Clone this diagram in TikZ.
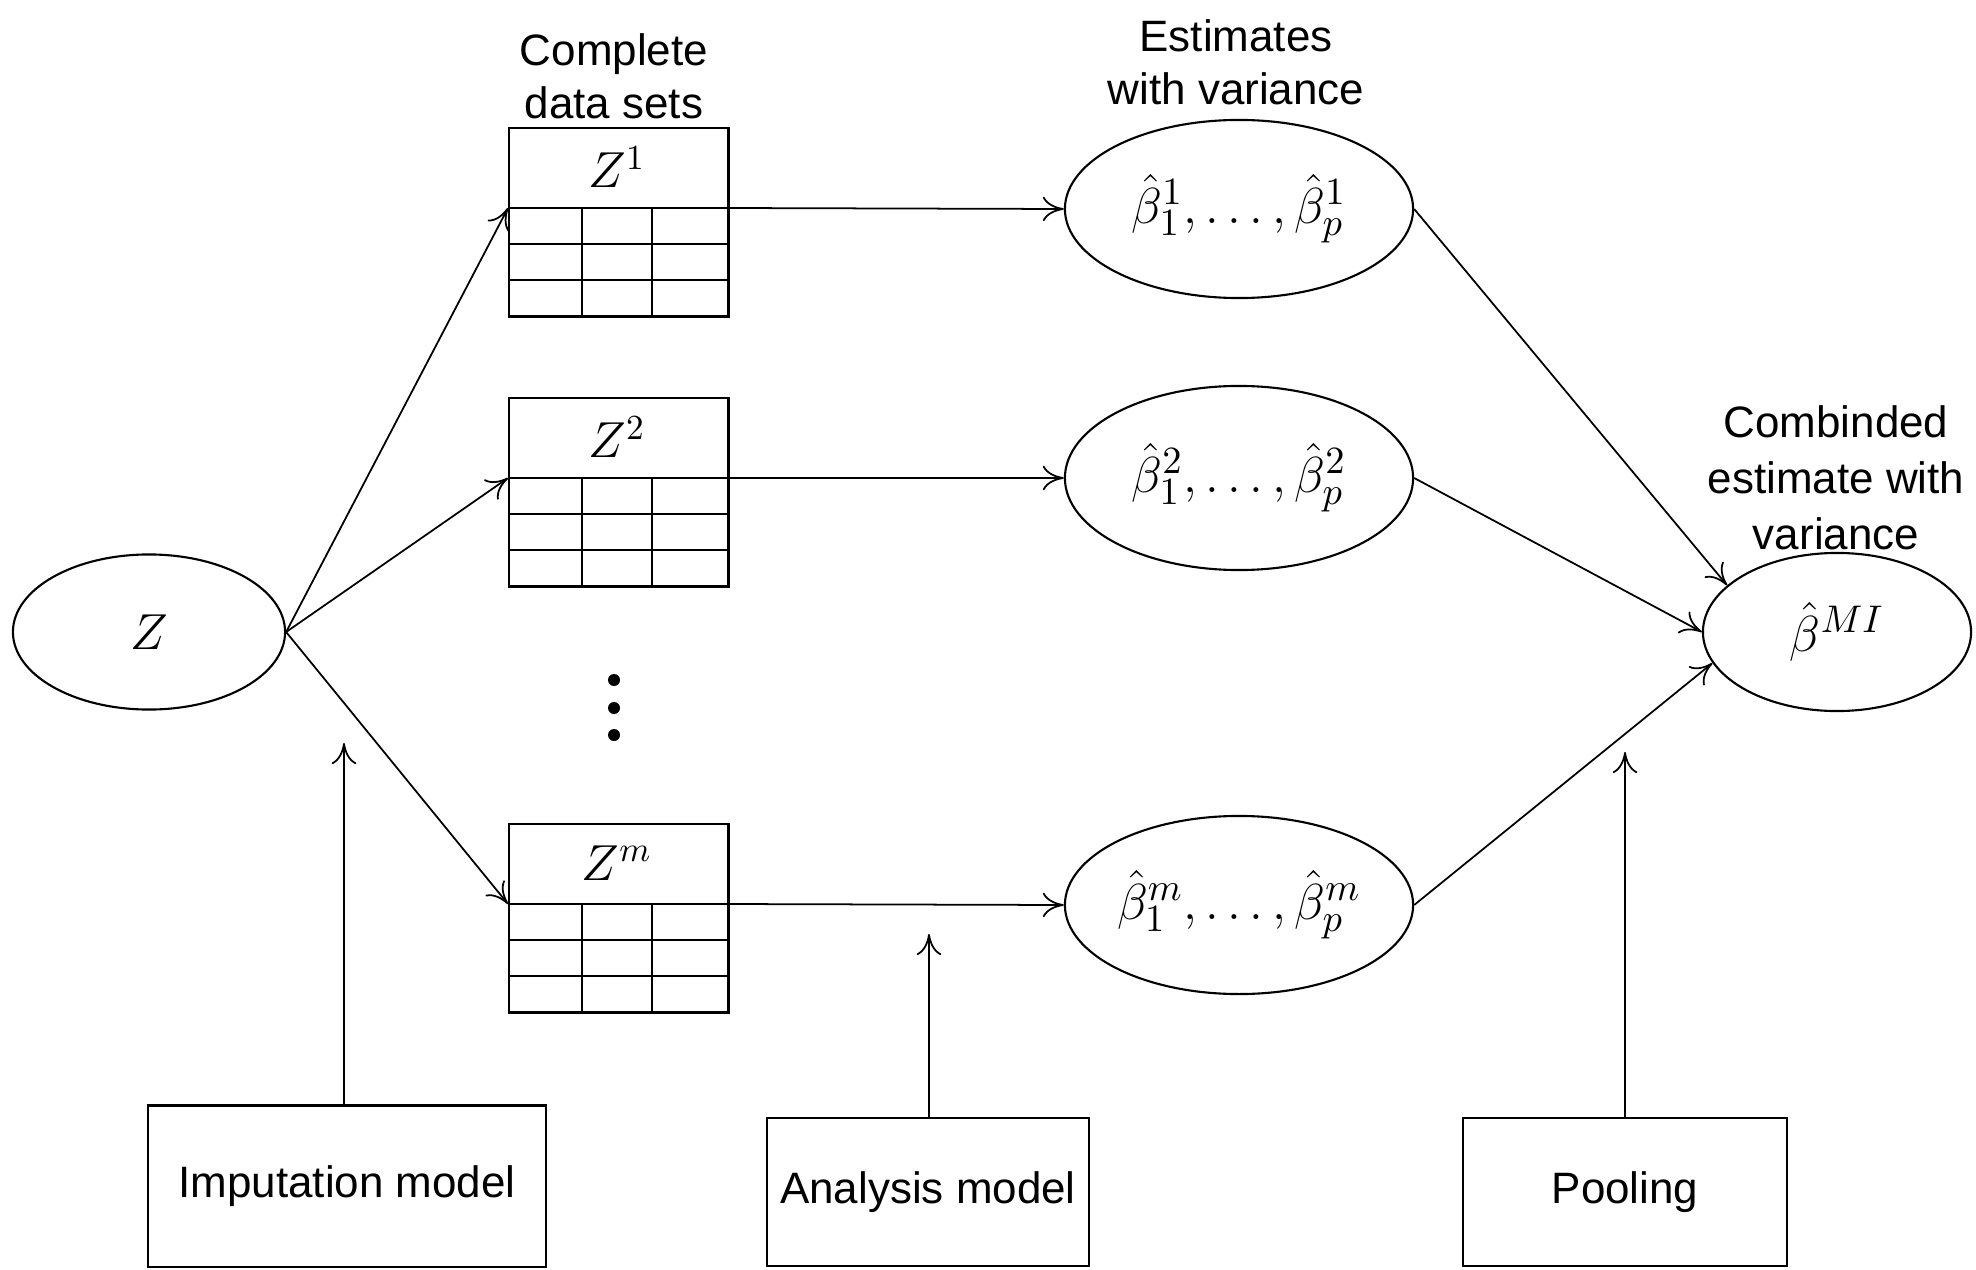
\documentclass[tikz,border=0pt]{standalone}
\usepackage{fontspec}
\newfontfamily\lsans{Liberation Sans}
\usetikzlibrary{shapes.geometric,arrows.meta}
\begin{document}
\begin{tikzpicture}[x=0.01cm,y=-0.01cm,
  every path/.style={line width=0.5pt},
  arr/.style={-{To[length=6pt,width=7pt]}, line width=0.5pt},
  oval/.style={draw, ellipse, inner sep=0pt, line width=0.6pt},
  modelbox/.style={draw, rectangle, line width=0.6pt, inner sep=0pt, font=\lsans\fontsize{12.5}{15}\selectfont},
  caption/.style={align=center, inner sep=0pt, font=\lsans\fontsize{12.5}{15}\selectfont},
  mathtxt/.style={font=\fontsize{14}{17}\selectfont},
  betatxt/.style={font=\fontsize{15}{18}\selectfont},
  tbl/.style={draw, rectangle, line width=0.7pt, minimum width=2.19cm, inner sep=0pt},
  dot/.style={circle, fill=black, inner sep=0pt, minimum size=0.12cm}
]
\useasboundingbox (0,0) rectangle (1976,1270);

% data tables: #1 name, #2 top y, #3 label
\newcommand{\datatable}[3]{%
  \node[tbl, minimum height=1.88cm, anchor=north west] (#1) at (508,#2) {};
  \coordinate (#1hl) at (508,#2+81);
  \coordinate (#1hr) at (727,#2+81);
  \node[mathtxt] (#1lab) at (617,#2+40) {$Z^{#3}$};
  \draw[line width=0.7pt] (#1hl) -- (#1hr);
  \draw[line width=0.7pt] (508,#2+117) -- (727,#2+117);
  \draw[line width=0.7pt] (508,#2+153) -- (727,#2+153);
  \draw[line width=0.7pt] (582,#2+81) -- (582,#2+188);
  \draw[line width=0.7pt] (652,#2+81) -- (652,#2+188);
}
\datatable{t1}{127}{1}
\datatable{t2}{397}{2}
\datatable{tm}{823}{m}

% Z ellipse
\node[oval, minimum width=2.72cm, minimum height=1.55cm, mathtxt] (z) at (149,632) {$Z$};

% estimate ellipses
\node[oval, minimum width=3.48cm, minimum height=1.78cm, betatxt] (e1) at (1239,209) {$\hat\beta^1_1,\ldots,\hat\beta^1_p$};
\node[oval, minimum width=3.48cm, minimum height=1.84cm, betatxt] (e2) at (1239,478) {$\hat\beta^2_1,\ldots,\hat\beta^2_p$};
\node[oval, minimum width=3.48cm, minimum height=1.78cm, betatxt] (em) at (1239,905) {$\hat\beta^m_1,\ldots,\hat\beta^m_p$};

% combined ellipse
\node[oval, minimum width=2.68cm, minimum height=1.58cm, betatxt] (mi) at (1837,632) {$\hat\beta^{MI}$};

% captions
\node[caption] (cap1) at (614,76) {Complete\\data sets};
\node[caption] (cap2) at (1236,62) {Estimates\\with variance};
\node[caption, font=\lsans\fontsize{12.5}{16}\selectfont] (cap3) at (1836,478) {Combinded\\estimate with\\variance};

% dots
\node[dot] (d1) at (614,680) {};
\node[dot] (d2) at (614,708) {};
\node[dot] (d3) at (614,735) {};

% model boxes
\node[modelbox, minimum width=3.97cm, minimum height=1.61cm] (imp) at (347,1186) {Imputation model};
\node[modelbox, minimum width=3.22cm, minimum height=1.48cm] (ana) at (928,1192) {Analysis model};
\node[modelbox, minimum width=3.23cm, minimum height=1.48cm] (pool) at (1625,1192) {Pooling};

\coordinate (impT) at (344,743);
\coordinate (anaT) at (929,934);
\coordinate (poolT) at (1625,752);

% connectors
\draw[arr] (z.east) -- (t1hl);
\draw[arr] (z.east) -- (t2hl);
\draw[arr] (z.east) -- (tmhl);

\draw[arr] (t1hr) -- (e1.west);
\draw[arr] (t2hr) -- (e2.west);
\draw[arr] (tmhr) -- (em.west);

\draw[arr] (e1.east) -- (mi.157);
\draw[arr] (e2.east) -- (mi.180);
\draw[arr] (em.east) -- (mi.194);

\draw[arr] (imp.north -| impT) -- (impT);
\draw[arr] (ana.north -| anaT) -- (anaT);
\draw[arr] (pool.north -| poolT) -- (poolT);
\end{tikzpicture}
\end{document}
